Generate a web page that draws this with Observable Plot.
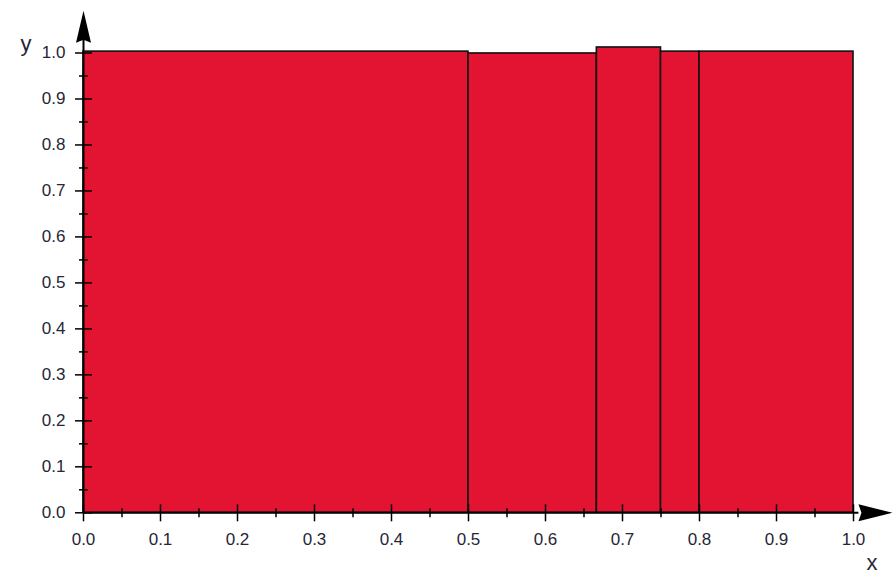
<!DOCTYPE html>
<html>
<head>
<meta charset="utf-8">
<script src="https://cdn.jsdelivr.net/npm/d3@7"></script>
<script src="https://cdn.jsdelivr.net/npm/@observablehq/plot@0.6"></script>
<style>
  html, body { margin: 0; padding: 0; background: #fff; }
  #chart svg text { font-family: 'Liberation Sans', Arial, sans-serif !important; }
  #chart svg g.ticklab text { font-size: 17px !important; }
  #chart svg g.axisname text { font-size: 22px !important; }
</style>
</head>
<body>
<div id="chart"></div>
<script>
// ---- data ----
const binStart = [0, 0.5, 0.6667, 0.75, 0.8];
const binEnd   = [0.5, 0.6667, 0.75, 0.8, 1.0];
const heights  = [1.003, 0.999, 1.012, 1.003, 1.003];
const majorTicks = [0, 0.1, 0.2, 0.3, 0.4, 0.5, 0.6, 0.7, 0.8, 0.9, 1.0];
const minorTicks = [0.05, 0.15, 0.25, 0.35, 0.45, 0.55, 0.65, 0.75, 0.85, 0.95];
const tickLabels = ["0.0","0.1","0.2","0.3","0.4","0.5","0.6","0.7","0.8","0.9","1.0"];

const bins = binStart.map((s, i) => ({x1: s, x2: binEnd[i], h: heights[i]}));
const labelled = majorTicks.map((t, i) => ({t, label: tickLabels[i]}));

// custom symbols
const vline = (h) => ({draw(ctx) { ctx.moveTo(0, -h); ctx.lineTo(0, h); }});
const hline = (w) => ({draw(ctx) { ctx.moveTo(-w, 0); ctx.lineTo(w, 0); }});
const arrowUp = {draw(ctx) { ctx.moveTo(0, 0); ctx.lineTo(7.5, 32); ctx.lineTo(0, 29); ctx.lineTo(-7.5, 32); ctx.closePath(); }};
const arrowRight = {draw(ctx) { ctx.moveTo(0, 0); ctx.lineTo(-34, -8.5); ctx.lineTo(-31, 0); ctx.lineTo(-34, 8.5); ctx.closePath(); }};

const textColor = "#262636";

const chart = Plot.plot({
  width: 893,
  height: 582,
  marginLeft: 83,
  marginRight: 40,
  marginTop: 52.5,
  marginBottom: 69.7,
  x: {domain: [0, 1], axis: null},
  y: {domain: [0, 1], axis: null},
  style: {fontFamily: "'Liberation Sans', Arial, sans-serif", fontSize: "17px", background: "#fff"},
  marks: [
    Plot.rectY(bins, {x1: "x1", x2: "x2", y: "h", fill: "#E31432", stroke: "#111", strokeWidth: 1.6}),
    // axes lines
    Plot.ruleY([0], {x1: 0, x2: 1.007, stroke: "#000", strokeWidth: 2}),
    Plot.ruleX([0], {y1: 0, y2: 1.03, stroke: "#000", strokeWidth: 2}),
    // ticks
    Plot.dot(majorTicks, {x: d => d, y: 0, symbol: vline(8.5), fill: "none", stroke: "#000", strokeWidth: 1.5}),
    Plot.dot(minorTicks, {x: d => d, y: 0, symbol: vline(4.5), fill: "none", stroke: "#000", strokeWidth: 1.5}),
    Plot.dot(majorTicks, {x: 0, y: d => d, symbol: hline(8.5), fill: "none", stroke: "#000", strokeWidth: 1.5}),
    Plot.dot(minorTicks, {x: 0, y: d => d, symbol: hline(4.5), fill: "none", stroke: "#000", strokeWidth: 1.5}),
    // arrows
    Plot.dot([0], {x: 0, y: 1.092, symbol: arrowUp, fill: "#000", stroke: "none"}),
    Plot.dot([0], {x: 1.0506, y: 0, symbol: arrowRight, fill: "#000", stroke: "none"}),
    // tick labels
    Plot.text(labelled, {x: "t", y: 0, text: "label", dy: 27, fontSize: 17, fill: textColor, className: "ticklab"}),
    Plot.text(labelled, {x: 0, y: "t", text: "label", dx: -18, textAnchor: "end", fontSize: 17, fill: textColor, className: "ticklab"}),
    // axis names
    Plot.text(["y"], {frameAnchor: "top-left", text: d => d, dx: -63, dy: -17.5, fontSize: 22, fill: textColor, className: "axisname"}),
    Plot.text(["x"], {frameAnchor: "bottom-right", text: d => d, dx: 24, dy: 57.5, fontSize: 22, fill: textColor, className: "axisname"})
  ]
});
document.getElementById("chart").appendChild(chart);
</script>
</body>
</html>
